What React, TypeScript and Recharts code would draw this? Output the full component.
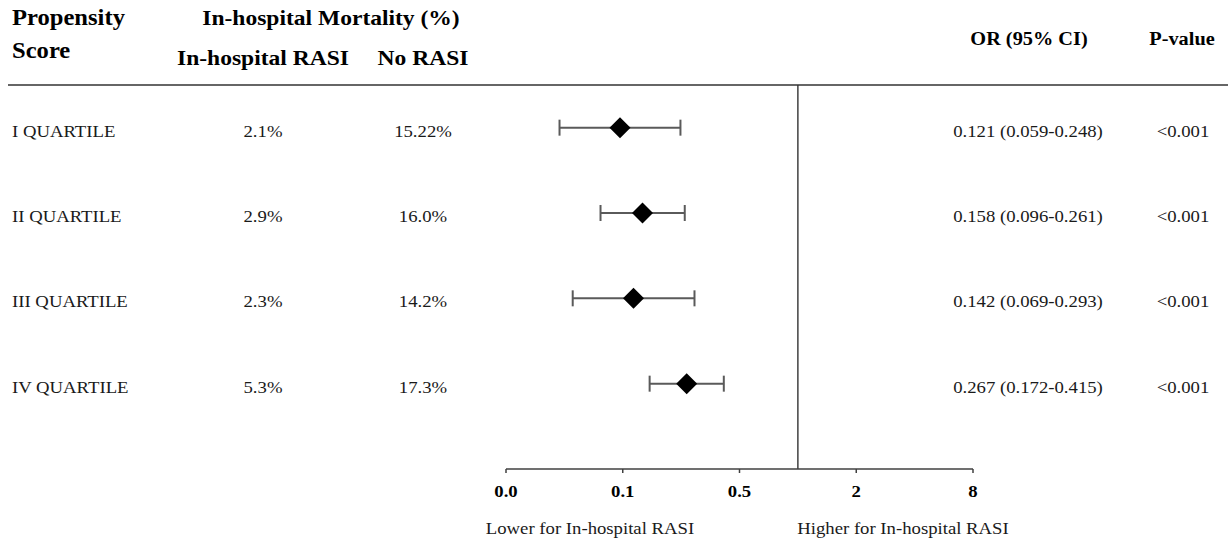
import { ScatterChart, Scatter, XAxis, YAxis, ErrorBar, ReferenceLine } from "recharts";

const rowLabels = ["I QUARTILE", "II QUARTILE", "III QUARTILE", "IV QUARTILE"];
const rasiMortality = ["2.1%", "2.9%", "2.3%", "5.3%"];
const noRasiMortality = ["15.22%", "16.0%", "14.2%", "17.3%"];
const oddsRatios = [0.121, 0.158, 0.142, 0.267];
const ciLower = [0.059, 0.096, 0.069, 0.172];
const ciUpper = [0.248, 0.261, 0.293, 0.415];
const pValues = ["<0.001", "<0.001", "<0.001", "<0.001"];
const xTicks = [0.03125, 0.125, 0.5, 2, 8];
const xTickLabels = ["0.0", "0.1", "0.5", "2", "8"];

const FONT = "Liberation Serif";
const INK = "#404040";
const STRETCH = 1.07; // source image text is slightly wide

const data = oddsRatios.map((or, i) => ({
  row: i + 1,
  or,
  err: [or - ciLower[i], ciUpper[i] - or],
}));

const Diamond = (props: any) => {
  const { cx, cy } = props;
  const r = 10.5;
  return <path d={`M${cx},${cy - r}L${cx + r},${cy}L${cx},${cy + r}L${cx - r},${cy}Z`} fill="#000" />;
};

const Txt = ({ x, y, size, bold, anchor, children }: any) => (
  <text
    transform={`translate(${x},${y}) scale(${STRETCH},1)`}
    textAnchor={anchor || "start"}
    style={{ fontFamily: FONT, fontSize: size, fontWeight: bold ? "bold" : "normal", fill: bold ? "#000" : "#1a1a1a" }}
  >
    {children}
  </text>
);

const RowTick = (props: any) => {
  const { y, payload } = props;
  const i = Math.round(payload.value) - 1;
  if (i < 0 || i >= rowLabels.length) return null;
  const orText = `${oddsRatios[i].toFixed(3)} (${ciLower[i].toFixed(3)}-${ciUpper[i].toFixed(3)})`;
  const by = y + 9;
  return (
    <g>
      <Txt x={12} y={by} size={17.5}>{rowLabels[i]}</Txt>
      <Txt x={263} y={by} size={17.5} anchor="middle">{rasiMortality[i]}</Txt>
      <Txt x={423} y={by} size={17.5} anchor="middle">{noRasiMortality[i]}</Txt>
      <Txt x={1028} y={by} size={17.5} anchor="middle">{orText}</Txt>
      <Txt x={1183} y={by} size={17.5} anchor="middle">{pValues[i]}</Txt>
    </g>
  );
};

const XTick = (props: any) => {
  const { x, y, index } = props;
  return (
    <Txt x={x} y={y + 22} size={17.5} bold anchor="middle">
      {xTickLabels[index]}
    </Txt>
  );
};

export default function App() {
  return (
    <div style={{ position: "absolute", left: 0, top: 0, width: 1228, height: 544, background: "#fff" }}>
      <ScatterChart width={1228} height={544} margin={{ top: 85, right: 255, bottom: 45, left: 0 }}>
        <XAxis
          type="number"
          dataKey="or"
          scale="log"
          domain={[0.03125, 8]}
          ticks={xTicks}
          interval={0}
          allowDataOverflow
          height={30}
          stroke={INK}
          strokeWidth={1.5}
          tickSize={4}
          tick={<XTick />}
        />
        <YAxis
          type="number"
          dataKey="row"
          domain={[0.5, 5]}
          reversed
          ticks={[1, 2, 3, 4]}
          interval={0}
          width={506}
          axisLine={false}
          tickLine={false}
          tick={<RowTick />}
        />
        <ReferenceLine x={1} stroke={INK} strokeWidth={1.5} />
        <Scatter data={data} shape={<Diamond />} isAnimationActive={false}>
          <ErrorBar dataKey="err" direction="x" width={8} stroke="#5a5a5a" strokeWidth={2} />
        </Scatter>
      </ScatterChart>
      <svg width={1228} height={544} style={{ position: "absolute", left: 0, top: 0, pointerEvents: "none" }}>
        <Txt x={12} y={25} size={23} bold>Propensity</Txt>
        <Txt x={12} y={58} size={23} bold>Score</Txt>
        <Txt x={331} y={25} size={22} bold anchor="middle">In-hospital Mortality (%)</Txt>
        <Txt x={263} y={65} size={22} bold anchor="middle">In-hospital RASI</Txt>
        <Txt x={423} y={65} size={22} bold anchor="middle">No RASI</Txt>
        <Txt x={1029} y={45} size={19} bold anchor="middle">OR (95% CI)</Txt>
        <Txt x={1182} y={45} size={19} bold anchor="middle">P-value</Txt>
        <line x1={8} x2={1228} y1={85} y2={85} stroke="#333" strokeWidth={1.5} />
        <Txt x={590} y={534} size={17.5} anchor="middle">Lower for In-hospital RASI</Txt>
        <Txt x={903} y={534} size={17.5} anchor="middle">Higher for In-hospital RASI</Txt>
      </svg>
    </div>
  );
}
